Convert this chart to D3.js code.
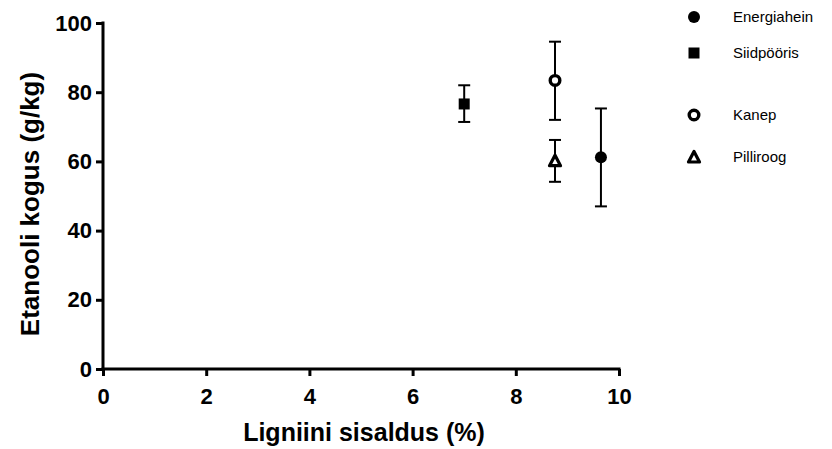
<!DOCTYPE html>
<html>
<head>
<meta charset="utf-8">
<script src="https://cdn.jsdelivr.net/npm/d3@7"></script>
<style>
  body { margin: 0; background: #fff; }
  svg text { font-family: "Liberation Sans", Arial, sans-serif; fill: #000; }
</style>
</head>
<body>
<svg id="chart" width="832" height="449"></svg>
<script>
// data
const series = ["Energiahein", "Siidpööris", "Kanep", "Pilliroog"];
const lignin = [9.65, 7.0, 8.76, 8.76];
const ethanol = [61.2, 76.6, 83.4, 60.2];
const errUp = [75.3, 82, 94.6, 66.2];
const errDown = [47, 71.4, 72, 54.1];
const xTicks = [0, 2, 4, 6, 8, 10];
const yTicks = [0, 20, 40, 60, 80, 100];

const svg = d3.select("#chart");
const x = d3.scaleLinear().domain([0, 10]).range([103, 619]);
const y = d3.scaleLinear().domain([0, 100]).range([369, 23]);

const rows = series.map((s, i) => ({
  name: s, x: lignin[i], y: ethanol[i], hi: errUp[i], lo: errDown[i]
}));

// axes
const xAxis = svg.append("g")
  .attr("transform", "translate(0," + y(0) + ")")
  .call(d3.axisBottom(x).tickValues(xTicks).tickSize(7).tickPadding(12).tickSizeOuter(0));
const yAxis = svg.append("g")
  .attr("transform", "translate(" + x(0) + ",0)")
  .call(d3.axisLeft(y).tickValues(yTicks).tickSize(7).tickPadding(4).tickSizeOuter(0));

[xAxis, yAxis].forEach(a => {
  a.select(".domain").attr("stroke", "#000").attr("stroke-width", 3);
  a.selectAll(".tick line").attr("stroke", "#000").attr("stroke-width", 3);
  a.selectAll(".tick text")
    .style("font-size", "22px").style("font-weight", "bold")
    .attr("fill", "#000");
});
xAxis.select(".domain").attr("d", "M" + (x(0) - 1.5) + ",0H" + (x(10) + 1.5));
yAxis.select(".domain").attr("d", "M0," + (y(100) - 1.5) + "V" + (y(0) + 1.5));

// axis titles
svg.append("text")
  .attr("x", 364).attr("y", 441)
  .attr("text-anchor", "middle")
  .style("font-size", "25px").style("font-weight", "bold")
  .text("Ligniini sisaldus (%)");
svg.append("text")
  .attr("transform", "translate(39,204) rotate(-90)")
  .attr("text-anchor", "middle")
  .style("font-size", "26px").style("font-weight", "bold")
  .text("Etanooli kogus (g/kg)");

// error bars
const eb = svg.append("g").attr("stroke", "#000").attr("stroke-width", 2);
rows.forEach(d => {
  eb.append("line").attr("x1", x(d.x)).attr("x2", x(d.x)).attr("y1", y(d.hi)).attr("y2", y(d.lo));
  [d.hi, d.lo].forEach(v => {
    eb.append("line").attr("x1", x(d.x) - 6).attr("x2", x(d.x) + 6).attr("y1", y(v)).attr("y2", y(v));
  });
});

// markers
function marker(g, name, cx, cy) {
  if (name === "Energiahein") {
    g.append("circle").attr("cx", cx).attr("cy", cy).attr("r", 6).attr("fill", "#000");
  } else if (name === "Siidpööris") {
    g.append("rect").attr("x", cx - 5.5).attr("y", cy - 5.5).attr("width", 11).attr("height", 11).attr("fill", "#000");
  } else if (name === "Kanep") {
    g.append("circle").attr("cx", cx).attr("cy", cy).attr("r", 4.8)
      .attr("fill", "#fff").attr("stroke", "#000").attr("stroke-width", 3.4);
  } else {
    g.append("path")
      .attr("d", "M" + cx + "," + (cy - 5.5) + "L" + (cx + 5.5) + "," + (cy + 5) + "L" + (cx - 5.5) + "," + (cy + 5) + "Z")
      .attr("fill", "#fff").attr("stroke", "#000").attr("stroke-width", 3.2).attr("stroke-linejoin", "round");
  }
}
const pts = svg.append("g");
rows.forEach(d => marker(pts, d.name, x(d.x), y(d.y)));

// legend
const legendY = [17, 53, 115, 157];
const lg = svg.append("g");
series.forEach((s, i) => {
  marker(lg, s, 694, legendY[i]);
  lg.append("text").attr("x", 733).attr("y", legendY[i]).attr("dy", "0.35em")
    .style("font-size", "15px").text(s);
});
</script>
</body>
</html>
